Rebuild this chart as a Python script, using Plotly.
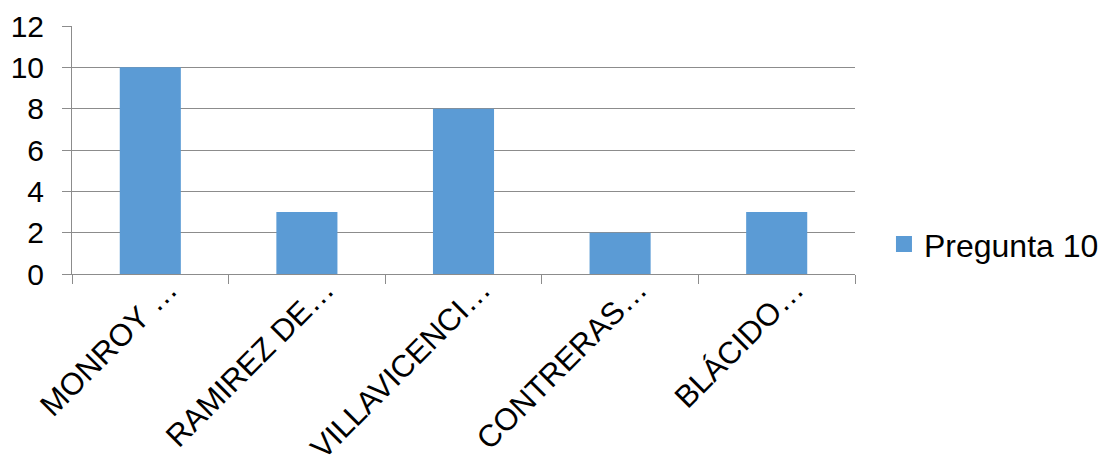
import plotly.graph_objects as go

categories = ["MONROY …", "RAMIREZ DE…", "VILLAVICENCI…", "CONTRERAS…", "BLÁCIDO…"]
values = [10, 3, 8, 2, 3]
series_name = "Pregunta 10"
y_ticks = [0, 2, 4, 6, 8, 10, 12]

FONT = "Liberation Sans, Arial, sans-serif"
GRID = "#8c8c8c"
BAR_COLOR = "#5B9BD5"
LABEL_SIZE = 31

fig = go.Figure()

fig.add_trace(
    go.Bar(
        x=categories,
        y=values,
        name=series_name,
        marker=dict(color=BAR_COLOR, line=dict(width=0)),
        width=0.39,
        showlegend=False,
        legendgroup="p10",
    )
)

# legend entry with a larger square swatch
fig.add_trace(
    go.Scatter(
        x=[None],
        y=[None],
        mode="markers",
        name=series_name,
        marker=dict(symbol="square", size=16, color=BAR_COLOR),
        legendgroup="p10",
        showlegend=True,
    )
)

fig.update_layout(
    width=1103,
    height=459,
    margin=dict(l=72, r=248, t=26, b=185, autoexpand=False),
    paper_bgcolor="white",
    plot_bgcolor="white",
    font=dict(family=FONT, size=LABEL_SIZE, color="black"),
    showlegend=True,
    legend=dict(
        x=1.037,
        y=0.12,
        xanchor="left",
        yanchor="middle",
        font=dict(family=FONT, size=32, color="black"),
        bgcolor="rgba(0,0,0,0)",
    ),
    bargap=0.61,
)

fig.update_xaxes(
    type="category",
    automargin=False,
    tickangle=-45,
    tickson="boundaries",
    ticks="outside",
    ticklen=9,
    tickcolor=GRID,
    tickwidth=1,
    ticklabelshift=18,
    ticklabelstandoff=-16,
    showline=True,
    linecolor=GRID,
    linewidth=1,
    showgrid=False,
    tickfont=dict(family=FONT, size=LABEL_SIZE, color="black"),
)

fig.update_yaxes(
    range=[0, 12],
    automargin=False,
    tickvals=y_ticks,
    ticks="outside",
    ticklen=9,
    tickcolor=GRID,
    ticklabelstandoff=12,
    showline=True,
    linecolor=GRID,
    linewidth=1,
    showgrid=True,
    gridcolor=GRID,
    gridwidth=1,
    zeroline=False,
    tickfont=dict(family=FONT, size=30, color="black"),
)

fig.write_html("out.html")
